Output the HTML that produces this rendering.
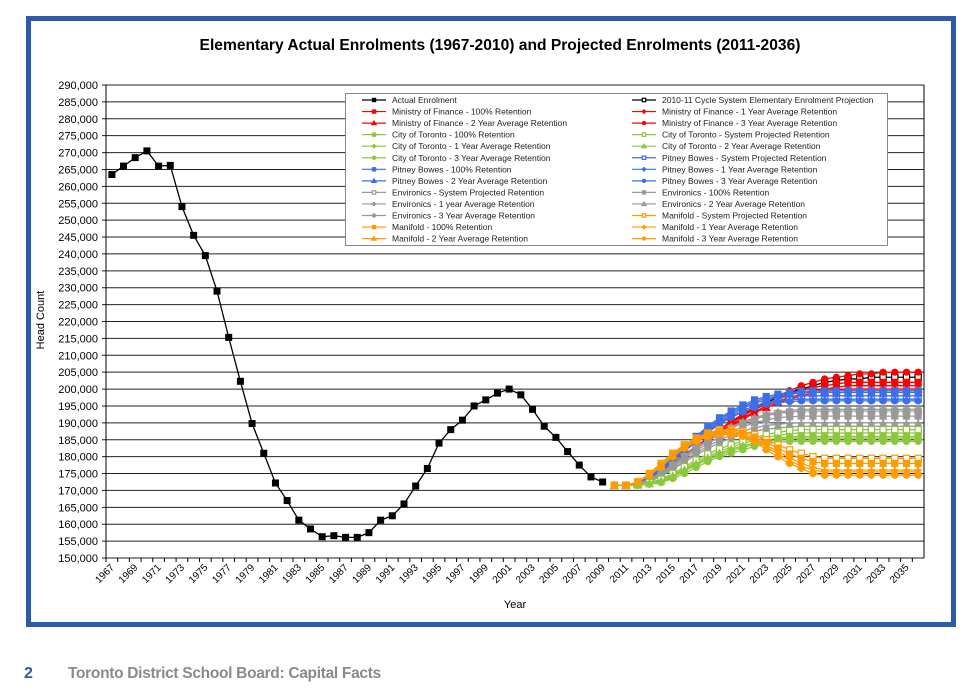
<!DOCTYPE html>
<html><head><meta charset="utf-8"><style>
body{margin:0;background:#fff;width:977px;height:697px;overflow:hidden;font-family:"Liberation Sans",sans-serif}
#frame{position:absolute;left:26px;top:16px;width:920px;height:601px;border:5px solid #2e5aac}
#footer-num{position:absolute;left:24px;top:665px;font:bold 16px "Liberation Sans",sans-serif;color:#2e5aac}
#footer-text{position:absolute;left:68px;top:665px;font:bold 15.5px "Liberation Sans",sans-serif;color:#8a8a8a;letter-spacing:-0.3px}
</style></head><body>
<div id="frame"></div>
<svg id="chart" width="977" height="697" style="position:absolute;left:0;top:0"></svg>
<div id="footer-num">2</div>
<div id="footer-text">Toronto District School Board: Capital Facts</div>
<script>
const years=[];for(let y=1967;y<=2036;y++)years.push(y);
const yTicks=[150000,155000,160000,165000,170000,175000,180000,185000,190000,195000,200000,205000,210000,215000,220000,225000,230000,235000,240000,245000,250000,255000,260000,265000,270000,275000,280000,285000,290000];
const actual=[263.5,266,268.5,270.5,266,266.2,254,245.5,239.5,229,215.3,202.3,189.8,181,172.2,167,161.2,158.6,156.3,156.6,156.1,156.1,157.5,161.2,162.5,166,171.3,176.5,184,188,190.8,195,196.8,198.8,200,198.3,194,189,185.7,181.5,177.5,174,172.5];
const projStart=2010;
const sysProj=[171.5,171.5,172,173.5,175.5,178,180.5,183,185.5,188,190.3,192.3,194.3,196,197.5,199,200,201,202,202.5,203,203,203.5,203.5,203.5,203.5,203.5];
const mof100=[171.5,171.5,172,173.5,175.5,178,180.5,183,185.5,188,190,192,194,195.5,197,198.5,199.5,200.5,201,201.5,202,202,202,202,202,202,202];
const mof1=[171.5,171.5,172,173.5,175.3,177.8,180.3,182.8,185.3,187.5,189.5,191.5,193.3,195,196.5,197.5,198.5,199.5,200,200.5,201,201,201,201,201,201,201];
const mof2=[171.5,171.5,172,173.3,175,177.5,180,182.5,185,187,189,191,193,194.5,196,197,198,198.8,199.3,199.7,200,200,200,200,200,200,200];
const mof3=[171.5,171.5,172,173.5,175.5,178,180.5,183,185.5,188,190.5,192.5,194.5,196.5,198,199.5,201,202,203,203.5,204,204.5,204.5,205,205,205,205];
const citySys=[171.5,171.5,171.7,172.3,173.3,175,177,179,180.8,182.3,183.5,184.6,185.6,186.5,187.2,187.7,188,188,188,188,188,188,188,188,188,188,188];
const city100=[171.5,171.5,171.6,172.1,173,174.6,176.5,178.4,180.1,181.6,182.8,183.9,184.9,185.7,186.3,186.8,187,187,187,187,187,187,187,187,187,187,187];
const city1=[171.5,171.5,171.5,171.9,172.6,174,175.7,177.5,179.1,180.5,181.7,182.7,183.6,184.4,185,185.4,185.5,185.5,185.5,185.5,185.5,185.5,185.5,185.5,185.5,185.5,185.5];
const city2=[171.5,171.5,171.6,172,172.8,174.3,176.1,177.9,179.6,181,182.2,183.2,184.1,184.9,185.5,185.9,186,186,186,186,186,186,186,186,186,186,186];
const city3=[171.5,171.5,171.5,171.8,172.3,173.5,175,176.8,178.5,180,181,182,183,183.8,184.3,184.5,184.5,184.5,184.5,184.5,184.5,184.5,184.5,184.5,184.5,184.5,184.5];
const pbSys=[171.5,171.5,172.2,173.6,176,178.8,181.8,184.8,187.6,190,192,193.7,195,196,196.6,196.9,197,197,197,197,197,197,197,197,197,197,197];
const pb100=[171.5,171.5,172.5,174.2,176.8,179.8,183,186,189,191.5,193.5,195.3,196.8,197.8,198.5,199,199.3,199.5,199.5,199.5,199.5,199.5,199.5,199.5,199.5,199.5,199.5];
const pb1=[171.5,171.5,172.3,173.8,176.2,179,182,185,188,190.5,192.5,194.3,195.8,196.8,197.4,197.8,198,198,198,198,198,198,198,198,198,198,198];
const pb2=[171.5,171.5,172.5,174,176.5,179.5,182.5,185.5,188.5,191,193,194.8,196.3,197.3,198,198.5,198.8,199,199,199,199,199,199,199,199,199,199];
const pb3=[171.5,171.5,172,173.5,175.8,178.5,181.5,184.5,187.2,189.6,191.6,193.2,194.5,195.5,196,196.3,196.5,196.5,196.5,196.5,196.5,196.5,196.5,196.5,196.5,196.5,196.5];
const envSys=[171.5,171.5,172,173.2,175.1,177.5,180,182.4,184.6,186.6,188.4,189.9,191.1,192.1,192.8,193.2,193.5,193.5,193.5,193.5,193.5,193.5,193.5,193.5,193.5,193.5,193.5];
const env100=[171.5,171.5,171.9,173,174.8,177.1,179.5,181.8,183.9,185.8,187.5,188.9,190,190.9,191.5,191.8,192,192,192,192,192,192,192,192,192,192,192];
const env1=[171.5,171.5,171.8,172.8,174.5,176.6,178.9,181.1,183.1,184.9,186.4,187.6,188.5,189.2,189.6,189.9,190,190,190,190,190,190,190,190,190,190,190];
const env2=[171.5,171.5,172,173.3,175.3,177.8,180.3,182.8,185,187,188.8,190.3,191.5,192.5,193.2,193.7,194,194,194,194,194,194,194,194,194,194,194];
const env3=[171.5,171.5,171.7,172.6,174.2,176.2,178.4,180.5,182.4,184.1,185.5,186.6,187.5,188.1,188.5,188.8,189,189,189,189,189,189,189,189,189,189,189];
const manSys=[171.5,171.5,172.5,175,178,181,183.5,185.5,187,188,188,187.5,186.5,185,183.5,182,181,180,179.5,179.5,179.5,179.5,179.5,179.5,179.5,179.5,179.5];
const man100=[171.5,171.5,172.5,174.8,177.7,180.7,183.2,185.2,186.7,187.6,187.6,187,185.8,184.2,182.5,180.8,179.5,178.5,178,178,178,178,178,178,178,178,178];
const man1=[171.5,171.5,172.5,174.7,177.4,180.4,182.9,184.9,186.4,187.1,187.1,186.5,185.2,183.4,181.5,179.6,178,176.8,176,176,176,176,176,176,176,176,176];
const man2=[171.5,171.5,172.5,174.6,177.2,180.2,182.7,184.7,186.2,186.8,186.8,186.2,184.8,182.8,180.8,178.8,177.2,176,175.5,175.5,175.5,175.5,175.5,175.5,175.5,175.5,175.5];
const man3=[171.5,171.5,172.5,174.5,177,180,182.5,184.5,186,186.5,186.5,186,184.5,182,180,178,176.5,175,174.5,174.5,174.5,174.5,174.5,174.5,174.5,174.5,174.5];

const RED='#ff0000',GRN='#8cc83c',BLU='#3c6ee6',GRY='#999999',ORG='#ff9a00';
const series=[
 {n:'Actual Enrolment',d:actual,s:1967,c:'#000',m:'sq'},
 {n:'2010-11 Cycle System Elementary Enrolment Projection',d:sysProj,s:projStart,c:'#000',m:'osq'},
 {n:'Ministry of Finance - 100% Retention',d:mof100,s:projStart,c:RED,m:'sq'},
 {n:'Ministry of Finance - 1 Year Average Retention',d:mof1,s:projStart,c:RED,m:'plus'},
 {n:'Ministry of Finance - 2 Year Average Retention',d:mof2,s:projStart,c:RED,m:'tri'},
 {n:'Ministry of Finance - 3 Year Average Retention',d:mof3,s:projStart,c:RED,m:'dot'},
 {n:'City of Toronto - 100% Retention',d:city100,s:projStart,c:GRN,m:'sq'},
 {n:'City of Toronto - System Projected Retention',d:citySys,s:projStart,c:GRN,m:'osq'},
 {n:'City of Toronto - 1 Year Average Retention',d:city1,s:projStart,c:GRN,m:'plus'},
 {n:'City of Toronto - 2 Year Average Retention',d:city2,s:projStart,c:GRN,m:'tri'},
 {n:'City of Toronto - 3 Year Average Retention',d:city3,s:projStart,c:GRN,m:'dot'},
 {n:'Pitney Bowes - System Projected Retention',d:pbSys,s:projStart,c:BLU,m:'osq'},
 {n:'Pitney Bowes - 100% Retention',d:pb100,s:projStart,c:BLU,m:'sq'},
 {n:'Pitney Bowes - 1 Year Average Retention',d:pb1,s:projStart,c:BLU,m:'plus'},
 {n:'Pitney Bowes - 2 Year Average Retention',d:pb2,s:projStart,c:BLU,m:'tri'},
 {n:'Pitney Bowes - 3 Year Average Retention',d:pb3,s:projStart,c:BLU,m:'dot'},
 {n:'Environics -  System Projected Retention',d:envSys,s:projStart,c:GRY,m:'osq'},
 {n:'Environics - 100% Retention',d:env100,s:projStart,c:GRY,m:'sq'},
 {n:'Environics - 1 year Average Retention',d:env1,s:projStart,c:GRY,m:'plus'},
 {n:'Environics - 2 Year Average Retention',d:env2,s:projStart,c:GRY,m:'tri'},
 {n:'Environics - 3 Year Average Retention',d:env3,s:projStart,c:GRY,m:'dot'},
 {n:'Manifold - System Projected Retention',d:manSys,s:projStart,c:ORG,m:'osq'},
 {n:'Manifold - 100% Retention',d:man100,s:projStart,c:ORG,m:'sq'},
 {n:'Manifold - 1 Year Average Retention',d:man1,s:projStart,c:ORG,m:'plus'},
 {n:'Manifold - 2 Year Average Retention',d:man2,s:projStart,c:ORG,m:'tri'},
 {n:'Manifold - 3 Year Average Retention',d:man3,s:projStart,c:ORG,m:'dot'}
];
const NS='http://www.w3.org/2000/svg';
const svg=document.getElementById('chart');
const PL=106,PR=924,PT=85,PB=558,YMIN=150000,YMAX=290000;
const cw=(PR-PL)/years.length;
function xS(yr){return PL+(yr-1967+0.5)*cw;}
function yS(v){return PB-(v-YMIN)/(YMAX-YMIN)*(PB-PT);}
function mk(tag,attrs,parent){const e=document.createElementNS(NS,tag);for(const k in attrs)e.setAttribute(k,attrs[k]);(parent||svg).appendChild(e);return e;}

let t=mk('text',{x:500,y:50,'text-anchor':'middle','font-size':15.6,'font-weight':'bold'});


t.textContent='Elementary Actual Enrolments (1967-2010) and Projected Enrolments (2011-2036)';

const grid=mk('g',{});


yTicks.forEach(v=>{
 const y=yS(v);
 mk('line',{x1:PL-4,x2:PR,y1:y,y2:y,stroke:'#222','stroke-width':1},grid);
 const l=mk('text',{x:PL-8,y:y+4,'text-anchor':'end','font-size':11});
 
 
 l.textContent=v.toLocaleString('en-US');
});
mk('line',{x1:PL,x2:PL,y1:PT,y2:PB,stroke:'#000'});
mk('line',{x1:PR,x2:PR,y1:PT,y2:PB,stroke:'#000'});
years.forEach((yr,i)=>{
 const x=PL+i*cw;
 mk('line',{x1:x,x2:x,y1:PB,y2:PB+4,stroke:'#000'});
 if((yr-1967)%2===0){
  const cx=xS(yr);
  const l=mk('text',{x:cx+3,y:PB+10,'text-anchor':'end','font-size':10,transform:`rotate(-45 ${cx+3} ${PB+10})`});
  
  
  l.textContent=yr;
 }
});
t=mk('text',{x:515,y:608,'text-anchor':'middle','font-size':11});


t.textContent='Year';
t=mk('text',{x:44,y:320,'text-anchor':'middle','font-size':11,transform:'rotate(-90 44 320)'});


t.textContent='Head Count';

function marker(g,type,x,y,c,r){
 if(type==='sq')mk('rect',{x:x-r,y:y-r,width:2*r,height:2*r,fill:c},g);
 else if(type==='osq')mk('rect',{x:x-r+0.5,y:y-r+0.5,width:2*r-1,height:2*r-1,fill:'#fff',stroke:c,'stroke-width':1.2},g);
 else if(type==='tri')mk('path',{d:`M${x} ${y-r-1}L${x+r+1} ${y+r}L${x-r-1} ${y+r}Z`,fill:c},g);
 else if(type==='dot')mk('circle',{cx:x,cy:y,r:r,fill:c},g);
 else if(type==='plus'){mk('path',{d:`M${x-r} ${y}H${x+r}M${x} ${y-r}V${y+r}`,stroke:c,'stroke-width':2},g);}
}
const drawOrder=[series[0],...series.slice(1,6),...series.slice(11,16),...series.slice(16,21),...series.slice(6,11),...series.slice(21)];
drawOrder.forEach(s=>{
 const g=mk('g',{});
 
 
 const pts=s.d.map((v,i)=>[xS(s.s+i),yS(v*1000)]);
 mk('polyline',{points:pts.map(p=>p.join(',')).join(' '),fill:'none',stroke:s.c,'stroke-width':1.3},g);
 const r=s===series[0]?3.5:3.6;
 pts.forEach(p=>marker(g,s.m,p[0],p[1],s.c,r));
});

const lg=mk('g',{});


mk('rect',{x:345.5,y:93.5,width:542,height:152,fill:'#fff',stroke:'#888'},lg);
series.forEach((s,i)=>{
 const col=i%2,row=Math.floor(i/2);
 const x0=col?632:362,y=100+row*11.55;
 const e=mk('g',{},lg);
 
 
 mk('line',{x1:x0,x2:x0+24,y1:y,y2:y,stroke:s.c,'stroke-width':1.2},e);
 marker(e,s.m,x0+12,y,s.c,2.2);
 const tx=mk('text',{x:x0+30,y:y+3,'font-size':8.5,fill:'#222'},e);
 tx.textContent=s.n;
});
</script>
</body></html>
